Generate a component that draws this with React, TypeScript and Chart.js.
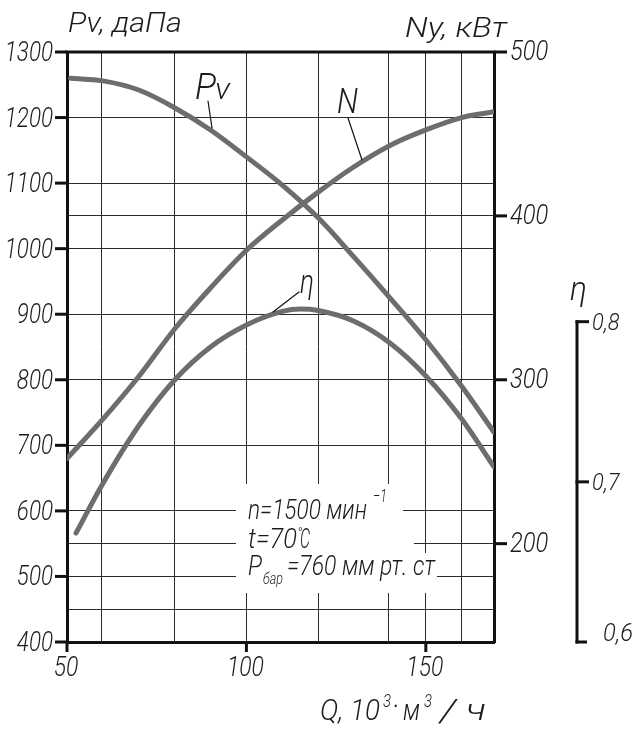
import { useEffect, useRef } from 'react';
import { Chart, registerables } from 'chart.js';
Chart.register(...registerables);

// ---- data ----
const Q_PV = [51, 60, 70, 80, 90, 100, 110, 120, 130, 140, 150, 160, 169];
const PV = [1260, 1256, 1242, 1215, 1181, 1140, 1097, 1047, 987, 925, 861, 790, 720];

const Q_N = [50, 60, 70, 80, 90, 100, 110, 120, 130, 140, 150, 160, 169];
const NY = [252, 276, 302, 331, 356, 379, 397.5, 414.5, 430, 443, 452.5, 460, 463.5];

const Q_ETA = [52.5, 60, 70, 80, 90, 100, 110, 115, 120, 130, 140, 150, 160, 169];
const ETA = [0.668, 0.699, 0.735, 0.7636, 0.7842, 0.7979, 0.8064, 0.8079, 0.807, 0.8003, 0.7867, 0.7661, 0.7392, 0.7093];

const X_GRID = [50, 59.5, 80, 100, 120, 139.5, 150, 160, 169];
const X_LABELS = [50, 100, 150];
const PV_GRID = [400, 450, 500, 550, 600, 700, 800, 900, 1000, 1050, 1100, 1200, 1300];
const PV_LABELS = [400, 500, 600, 700, 800, 900, 1000, 1100, 1200, 1300];
const NY_TICKS = [200, 300, 400, 500];
const ETA_TICKS = [0.6, 0.7, 0.8];

const FONT = "Roboto, 'DejaVu Sans Condensed', sans-serif";
const TEXT = '#1c1c1c';
const GRID = '#2a2a2a';
const AXIS = '#111111';
const CURVE = '#6d6d6d';

type TOpts = { sx?: number; width?: number; align?: CanvasTextAlign };

function txt(ctx: CanvasRenderingContext2D, s: string, x: number, y: number, size: number, o: TOpts = {}) {
  ctx.font = `italic 300 ${size}px ${FONT}`;
  const nat = ctx.measureText(s).width;
  const sx = o.width ? o.width / nat : o.sx ?? 1;
  ctx.save();
  ctx.translate(x, y);
  ctx.scale(sx, 1);
  ctx.textAlign = o.align ?? 'left';
  ctx.textBaseline = 'alphabetic';
  ctx.fillStyle = TEXT;
  ctx.fillText(s, 0, 0);
  ctx.restore();
  return nat * sx;
}

function line(ctx: CanvasRenderingContext2D, x1: number, y1: number, x2: number, y2: number, w: number) {
  ctx.beginPath();
  ctx.strokeStyle = AXIS;
  ctx.lineWidth = w;
  ctx.moveTo(x1, y1);
  ctx.lineTo(x2, y2);
  ctx.stroke();
}

const decor = {
  id: 'decor',
  beforeDraw(chart: any) {
    const ctx = chart.ctx;
    ctx.save();
    ctx.fillStyle = '#ffffff';
    ctx.fillRect(0, 0, chart.width, chart.height);
    ctx.restore();
  },
  beforeDatasetsDraw(chart: any) {
    const ctx = chart.ctx;
    const a = chart.chartArea;
    ctx.save();
    ctx.fillStyle = '#ffffff';
    // clear the grid behind the note block
    ctx.fillRect(236, 484, 167, 109);
    ctx.fillRect(403, 530, 11, 63);
    ctx.fillRect(414, 553, 23, 40);
    // top frame line
    line(ctx, a.left - 1.5, a.top, a.right + 1.5, a.top, 3);
    ctx.restore();
  },
  afterDraw(chart: any) {
    const ctx = chart.ctx;
    const a = chart.chartArea;
    const { x: xs, y: ys, yN, eta } = chart.scales;
    ctx.save();
    ctx.lineCap = 'butt';

    // tick marks and labels, placed by the scales
    PV_LABELS.forEach((v) => {
      const py = ys.getPixelForValue(v);
      line(ctx, a.left - 12, py, a.left, py, 3);
      txt(ctx, String(v), 53, py + 9, 28, { sx: 0.8, align: 'right' });
    });
    X_LABELS.forEach((v) => {
      const px = xs.getPixelForValue(v);
      line(ctx, px, a.bottom, px, a.bottom + 10, 3);
      txt(ctx, String(v), px - 1, 676, 28, { sx: 0.82, align: 'center' });
    });
    NY_TICKS.forEach((v) => {
      const py = yN.getPixelForValue(v);
      line(ctx, a.right, py, a.right + 13, py, 3);
      txt(ctx, String(v), 510, py + 8, 28, { sx: 0.85 });
    });

    // eta axis segment with ticks
    const ex = eta.left;
    line(ctx, ex, eta.getPixelForValue(0.8) - 1.5, ex, eta.getPixelForValue(0.6) + 1.5, 3);
    ETA_TICKS.forEach((v) => {
      const s = v.toFixed(1).replace('.', ',');
      const py = eta.getPixelForValue(v);
      line(ctx, ex - 1.5, py, ex + (v === 0.6 ? 10 : 12), py, 3);
      if (v === 0.6) txt(ctx, s, 603, py - 1, 25, { sx: 0.95 });
      else txt(ctx, s, 592, py + 8, 23, { sx: 0.95 });
    });

    // axis titles
    txt(ctx, 'Pv, даПа', 68, 32, 28, { width: 114 });
    txt(ctx, 'Ny, кВт', 405, 37, 28, { width: 102 });
    txt(ctx, 'η', 570, 300, 34, { width: 17 });

    // curve labels with leaders
    ctx.lineCap = 'round';
    txt(ctx, 'P', 195, 99, 37, { width: 21 });
    txt(ctx, 'v', 215, 99, 30, { width: 15 });
    line(ctx, 208, 101, 212, 128, 1.2);
    txt(ctx, 'N', 337, 113, 35, { width: 21 });
    line(ctx, 348, 118, 362, 160, 1.2);
    txt(ctx, 'η', 300, 293, 34, { width: 14 });
    line(ctx, 299, 292, 273, 312, 1.2);

    // note block
    txt(ctx, 'n=1500 мин', 248, 519, 28, { width: 119 });
    txt(ctx, '−1', 373, 502, 18, { width: 14 });
    txt(ctx, 't=70', 248, 548, 28, { width: 49 });
    txt(ctx, '°', 297, 538, 14);
    txt(ctx, 'C', 300, 548, 28, { width: 10 });
    txt(ctx, 'P', 248, 575, 28, { width: 14 });
    txt(ctx, 'бар', 263, 584, 17, { width: 20 });
    txt(ctx, '=760 мм рт. ст', 287, 575, 28, { width: 148 });

    // x axis title
    txt(ctx, 'Q, 10', 320, 720, 29, { width: 60 });
    txt(ctx, '3', 383, 707, 18, { width: 8 });
    txt(ctx, '·', 392, 716, 29);
    txt(ctx, 'м', 403, 720, 29, { width: 17 });
    txt(ctx, '3', 424, 707, 18, { width: 8 });
    txt(ctx, '/', 440, 721, 32, { sx: 1.3 });
    txt(ctx, 'ч', 466, 720, 29, { width: 20 });
    ctx.restore();
  },
};

export default function App() {
  const ref = useRef<HTMLCanvasElement>(null);
  useEffect(() => {
    document.body.style.margin = '0';
    const mk = (xs: number[], ys: number[]) => xs.map((q, i) => ({ x: q, y: ys[i] }));
    const ds = (label: string, data: any[], axis: string) => ({
      label,
      data,
      yAxisID: axis,
      borderColor: CURVE,
      borderWidth: 5,
      pointRadius: 0,
      cubicInterpolationMode: 'monotone' as const,
      borderCapStyle: 'round' as const,
      fill: false,
    });
    // labels and tick marks are drawn by the decor plugin from the scales
    const emptyTicks = { display: true, autoSkip: false, maxRotation: 0, callback: () => '' };
    const chart = new Chart(ref.current!, {
      type: 'line',
      data: {
        datasets: [
          ds('Pv', mk(Q_PV, PV), 'y'),
          ds('N', mk(Q_N, NY), 'yN'),
          ds('η', mk(Q_ETA, ETA), 'eta'),
        ],
      },
      options: {
        responsive: false,
        animation: false,
        events: [],
        layout: { padding: { top: 52, left: 0, right: 0, bottom: 0 } },
        plugins: { legend: { display: false }, tooltip: { enabled: false }, title: { display: false } },
        scales: {
          x: {
            type: 'linear',
            position: 'bottom',
            min: 50,
            max: 169,
            afterBuildTicks: (s: any) => { s.ticks = X_GRID.map((v) => ({ value: v })); },
            afterFit: (s: any) => { s.height = 92; },
            ticks: emptyTicks,
            grid: { color: GRID, lineWidth: 1, drawTicks: false },
            border: { color: AXIS, width: 3 },
          },
          y: {
            type: 'linear',
            position: 'left',
            min: 400,
            max: 1300,
            afterBuildTicks: (s: any) => { s.ticks = PV_GRID.map((v) => ({ value: v })); },
            afterFit: (s: any) => { s.width = 67; },
            ticks: emptyTicks,
            grid: { color: GRID, lineWidth: 1, drawTicks: false },
            border: { color: AXIS, width: 3 },
          },
          yN: {
            type: 'linear',
            position: 'right',
            weight: 0,
            min: 140,
            max: 500,
            afterBuildTicks: (s: any) => { s.ticks = NY_TICKS.map((v) => ({ value: v })); },
            afterFit: (s: any) => { s.width = 83; },
            ticks: emptyTicks,
            grid: { drawOnChartArea: false, drawTicks: false },
            border: { color: AXIS, width: 3 },
          },
          eta: {
            type: 'linear',
            position: 'right',
            weight: 1,
            min: 0.6,
            max: 0.9684,
            afterBuildTicks: (s: any) => { s.ticks = ETA_TICKS.map((v) => ({ value: v })); },
            afterFit: (s: any) => { s.width = 63; },
            ticks: emptyTicks,
            grid: { drawOnChartArea: false, drawTicks: false },
            border: { display: false },
          },
        },
      },
      plugins: [decor],
    } as any);
    return () => chart.destroy();
  }, []);
  return (
    <div style={{ width: 640, height: 734 }}>
      <canvas ref={ref} width={640} height={734} style={{ display: 'block' }} />
    </div>
  );
}
